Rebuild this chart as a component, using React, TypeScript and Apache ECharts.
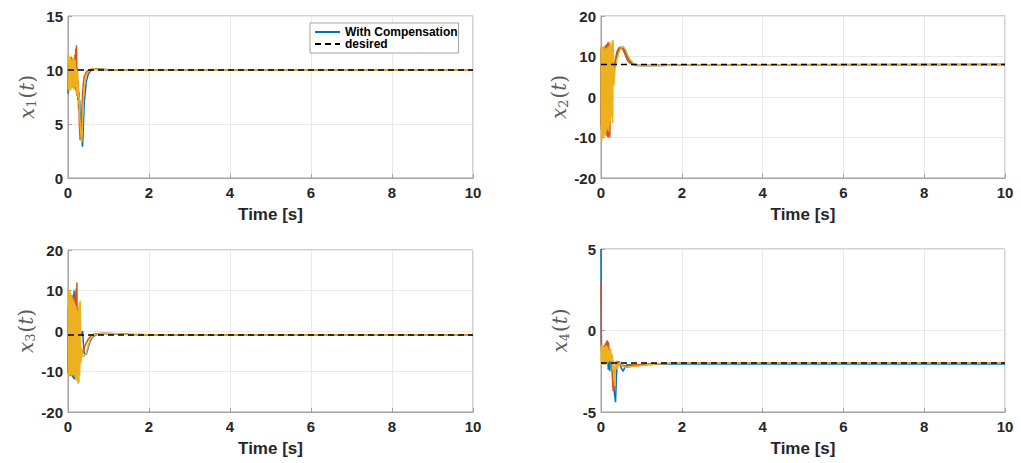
import React, { useEffect, useRef } from "react";
import * as echarts from "echarts";

// time samples (s)
const T = [
  0, 0.01, 0.02, 0.03, 0.04, 0.05, 0.06, 0.07, 0.08, 0.09,
  0.1, 0.11, 0.12, 0.13, 0.14, 0.15, 0.16, 0.17, 0.18, 0.19,
  0.2, 0.21, 0.22, 0.23, 0.24, 0.25, 0.26, 0.27, 0.28, 0.29,
  0.3, 0.32, 0.34, 0.36, 0.38, 0.4,
  0.45, 0.5, 0.55, 0.6, 0.65, 0.7,
  0.8, 0.9, 1.0, 1.2, 1.5, 2.0, 10,
];

const xTicks = [0, 2, 4, 6, 8, 10];

// x1
const x1Blue = [
  7.8, 10.3, 8.3, 10.6, 8.5, 10.4, 8.7, 10.7, 8.4, 10.5,
  8.9, 10.8, 9.1, 10.9, 8.8, 10.7, 9.0, 10.4, 8.6, 10.1,
  8.7, 9.6, 8.1, 9.2, 7.9, 8.6, 7.4, 8.0, 6.8, 7.2,
  5.8, 4.6, 3.6, 2.9, 4.8, 6.9,
  8.9, 9.6, 9.9, 10.05, 10.1, 10.12,
  10.1, 10.06, 10.03, 10.0, 10.0, 10.0, 10.0,
];
const x1Orange = [
  9.0, 10.6, 8.6, 10.9, 8.8, 11.0, 8.5, 10.6, 8.9, 11.2,
  8.4, 10.8, 8.7, 11.0, 8.3, 10.5, 8.6, 11.4, 8.2, 12.0,
  8.0, 12.3, 7.6, 10.2, 7.2, 9.0, 6.4, 7.5, 5.0, 4.2,
  3.5, 4.5, 6.2, 7.8, 8.8, 9.4,
  9.8, 9.95, 10.05, 10.1, 10.1, 10.08,
  10.05, 10.03, 10.0, 10.0, 10.0, 10.0, 10.0,
];
const x1Yellow = [
  11.5, 8.2, 11.2, 8.0, 11.0, 8.4, 11.3, 8.1, 10.8, 8.3,
  11.0, 8.6, 10.7, 8.5, 11.1, 8.2, 10.6, 8.8, 10.9, 8.4,
  10.2, 8.0, 10.0, 7.6, 9.8, 7.4, 8.6, 6.8, 7.5, 5.8,
  5.0, 4.0, 3.3, 5.2, 7.2, 8.4,
  9.5, 9.85, 10.0, 10.1, 10.12, 10.1,
  10.08, 10.04, 10.02, 10.0, 10.0, 10.0, 10.0,
];
const x1Desired = 10;

// x2
const x2Blue = [
  12.0, -8.0, 11.5, -7.5, 12.2, -8.2, 11.8, -7.0, 12.5, -7.8,
  12.0, -8.5, 12.8, -9.0, 13.0, -8.8, 12.6, -7.5, 13.2, -6.0,
  12.0, -4.0, 10.0, -1.0, 8.0, 2.0, 6.5, 4.0, 7.5, 5.5,
  6.0, 6.8, 7.6, 8.6, 9.6, 10.5,
  11.8, 12.3, 12.2, 11.2, 9.9, 8.9,
  8.1, 7.85, 7.8, 7.75, 7.8, 7.95, 8.0,
];
const x2Orange = [
  -7.0, 11.0, -8.5, 12.0, -7.8, 11.5, -9.0, 12.2, -8.0, 11.8,
  -8.8, 12.5, -9.5, 12.0, -8.5, 13.0, -9.8, 13.5, -10.0, 12.8,
  -8.0, 13.5, -10.0, 11.0, -4.0, 9.0, 2.0, 6.0, 4.0, 5.0,
  6.5, 7.5, 8.5, 9.5, 10.5, 11.3,
  12.2, 12.2, 11.6, 10.4, 9.2, 8.5,
  8.0, 7.8, 7.75, 7.75, 7.85, 7.95, 8.0,
];
const x2Yellow = [
  12.5, -11.0, 12.0, -10.5, 12.3, -9.5, 11.8, -10.0, 12.5, -9.0,
  12.0, -9.5, 11.5, -8.5, 12.2, -8.0, 11.8, -7.5, 12.5, -8.5,
  12.0, -7.0, 13.5, -6.0, 12.0, -5.0, 13.0, -3.0, 14.0, -6.5,
  14.0, 3.0, 6.5, 7.5, 8.5, 9.5,
  11.2, 12.2, 12.4, 11.8, 10.6, 9.5,
  8.3, 7.9, 7.8, 7.75, 7.8, 7.95, 8.0,
];
const x2Desired = 8;

// x3
const x3Blue = [
  -10.5, 6.0, -11.0, 7.0, -10.8, 6.5, -11.2, 7.5, -10.5, 8.0,
  -11.0, 8.5, -11.5, 9.0, -11.8, 10.0, -12.0, 9.5, -11.5, 7.0,
  -10.5, 5.0, -9.0, 3.0, -7.0, 1.0, -5.0, -1.0, -3.5, -2.0,
  -1.5, -1.0, -0.5, 0.0, -3.0, -5.5,
  -5.8, -4.0, -2.5, -1.6, -1.2, -0.9,
  -0.7, -0.6, -0.6, -0.65, -0.8, -0.95, -1.0,
];
const x3Orange = [
  5.5, -10.0, 6.5, -10.5, 7.0, -9.8, 6.0, -10.2, 7.2, -9.5,
  6.8, -10.0, 7.5, -9.8, 8.0, -9.0, 8.5, -8.0, 9.0, -6.0,
  10.5, -4.0, 12.0, -3.0, 4.0, -2.5, -1.0, -3.0, -2.0, -4.0,
  -5.0, -6.0, -6.2, -5.5, -5.0, -4.2,
  -3.0, -2.0, -1.4, -1.0, -0.8, -0.7,
  -0.6, -0.6, -0.65, -0.7, -0.85, -0.95, -1.0,
];
const x3Yellow = [
  10.5, -11.5, 10.0, -10.8, 10.2, -11.0, 9.5, -10.5, 9.0, -11.2,
  8.5, -10.8, 8.0, -11.0, 7.5, -10.5, 7.0, -11.5, 6.5, -12.0,
  6.0, -12.2, 5.0, -12.5, 4.5, -13.0, 6.0, -12.8, 7.0, -11.0,
  7.5, -8.0, -4.0, -6.0, -6.3, -6.2,
  -5.5, -3.5, -2.0, -1.4, -1.0, -0.8,
  -0.6, -0.55, -0.6, -0.7, -0.85, -0.95, -1.0,
];
const x3Desired = -1;

// x4
const x4Blue = [
  5.0, -1.0, -1.6, -1.2, -1.8, -1.3, -1.7, -1.2, -1.6, -1.4,
  -1.8, -1.3, -1.7, -1.4, -1.9, -1.5, -1.8, -1.6, -2.4, -2.3,
  -1.7, -1.5, -2.5, -1.6, -1.5, -1.4, -1.6, -1.9, -2.2, -2.6,
  -3.0, -3.6, -4.0, -4.4, -3.0, -2.0,
  -1.9, -2.3, -2.5, -2.2, -2.1, -2.1,
  -2.1, -2.1, -2.1, -2.08, -2.05, -2.05, -2.05,
];
const x4Orange = [
  3.0, -0.9, -1.3, -1.0, -1.4, -1.1, -1.3, -1.0, -1.2, -0.9,
  -1.1, -0.8, -1.0, -0.7, -0.9, -0.6, -0.8, -1.0, -0.7, -0.9,
  -1.3, -1.6, -1.5, -1.8, -1.6, -1.5, -1.7, -2.2, -2.8, -3.3,
  -3.7, -3.6, -2.6, -2.1, -1.9, -1.9,
  -2.0, -2.1, -2.15, -2.2, -2.2, -2.15,
  -2.1, -2.1, -2.08, -2.05, -2.02, -2.0, -2.0,
];
const x4Yellow = [
  -0.9, -2.0, -1.0, -2.1, -1.1, -2.0, -0.9, -2.1, -1.0, -2.0,
  -1.2, -2.1, -0.9, -2.0, -1.1, -1.9, -1.0, -2.0, -1.2, -1.8,
  -1.3, -1.9, -1.2, -1.8, -1.1, -1.9, -1.4, -2.0, -1.5, -2.4,
  -1.8, -3.0, -3.4, -2.0, -1.9, -2.4,
  -2.0, -2.1, -2.2, -2.25, -2.25, -2.25,
  -2.2, -2.2, -2.15, -2.1, -2.03, -2.0, -2.0,
];
const x4Desired = -2;

const panels = [
  { sub: "1", min: 0, max: 15, interval: 5, blue: x1Blue, orange: x1Orange, yellow: x1Yellow, desired: x1Desired },
  { sub: "2", min: -20, max: 20, interval: 10, blue: x2Blue, orange: x2Orange, yellow: x2Yellow, desired: x2Desired },
  { sub: "3", min: -20, max: 20, interval: 10, blue: x3Blue, orange: x3Orange, yellow: x3Yellow, desired: x3Desired },
  { sub: "4", min: -5, max: 5, interval: 5, blue: x4Blue, orange: x4Orange, yellow: x4Yellow, desired: x4Desired },
];

const grids = [
  { left: 68, top: 16, width: 405, height: 162 },
  { left: 601, top: 16, width: 404, height: 162 },
  { left: 68, top: 250, width: 405, height: 162 },
  { left: 601, top: 249, width: 404, height: 163 },
];

const SANS = "'Liberation Sans', Arial, sans-serif";
const SERIF = "'DejaVu Serif', 'Liberation Serif', serif";
const TXT = "#262626";
const FRAME = "#a3a3a3";
const GRIDC = "#e9e9e9";
const LABEL = "#5c5c5c";

function buildOption() {
  const xAxis: any[] = [];
  const yAxis: any[] = [];
  const series: any[] = [];
  panels.forEach((p, i) => {
    xAxis.push({
      gridIndex: i,
      type: "value",
      min: xTicks[0],
      max: xTicks[xTicks.length - 1],
      interval: 2,
      name: "Time [s]",
      nameLocation: "middle",
      nameGap: 28,
      nameTextStyle: { fontFamily: SANS, fontWeight: "bold", fontSize: 17, color: TXT },
      axisLabel: { fontFamily: SANS, fontWeight: "bold", fontSize: 15, color: TXT, margin: 7 },
      axisLine: { show: true, onZero: false, lineStyle: { color: FRAME, width: 1 } },
      axisTick: { show: true, inside: true, length: 4, lineStyle: { color: FRAME } },
      splitLine: { show: true, lineStyle: { color: GRIDC, width: 1 } },
    });
    yAxis.push({
      gridIndex: i,
      type: "value",
      min: p.min,
      max: p.max,
      interval: p.interval,
      name: `{v|x}{s|${p.sub}}{p|(}{v|t}{p|)}`,
      nameLocation: "middle",
      nameRotate: 90,
      nameGap: 30,
      nameTextStyle: {
        rich: {
          v: { fontFamily: SERIF, fontStyle: "italic", fontSize: 20, color: LABEL },
          p: { fontFamily: SERIF, fontSize: 20, color: LABEL },
          s: { fontFamily: SERIF, fontSize: 13, color: LABEL, padding: [9, 1, 0, 0] },
        },
      },
      axisLabel: { fontFamily: SANS, fontWeight: "bold", fontSize: 15, color: TXT, margin: 5 },
      axisLine: { show: true, onZero: false, lineStyle: { color: FRAME, width: 1 } },
      axisTick: { show: true, inside: true, length: 4, lineStyle: { color: FRAME } },
      splitLine: { show: true, lineStyle: { color: GRIDC, width: 1 } },
    });
    const mk = (name: string, vals: number[], color: string) => ({
      type: "line",
      name,
      xAxisIndex: i,
      yAxisIndex: i,
      data: T.map((t, k) => [t, vals[k]]),
      symbol: "none",
      lineStyle: { color, width: 1.5 },
      itemStyle: { color },
      z: 2,
    });
    series.push(mk("With Compensation", p.blue, "#0072BD"));
    series.push(mk("agent 2 " + p.sub, p.orange, "#D95319"));
    series.push(mk("agent 3 " + p.sub, p.yellow, "#EDB120"));
    series.push({
      type: "line",
      name: "desired",
      xAxisIndex: i,
      yAxisIndex: i,
      data: [
        [xTicks[0], p.desired],
        [xTicks[xTicks.length - 1], p.desired],
      ],
      symbol: "none",
      lineStyle: { color: "#000000", width: 1.5, type: [6, 4] },
      itemStyle: { color: "#000000" },
      z: 3,
    });
  });
  return {
    animation: false,
    backgroundColor: "#ffffff",
    grid: grids.map((g) => ({ ...g, show: true, borderColor: FRAME, borderWidth: 1, backgroundColor: "transparent" })),
    xAxis,
    yAxis,
    series,
    legend: {
      data: ["With Compensation", "desired"],
      orient: "vertical",
      left: 310,
      top: 23,
      padding: [3, 1, 3, 4],
      itemGap: 0,
      itemWidth: 25,
      itemHeight: 13,
      backgroundColor: "#ffffff",
      borderColor: FRAME,
      borderWidth: 1,
      selectedMode: false,
      itemStyle: { opacity: 0, color: "transparent", borderWidth: 0 },
      textStyle: { fontFamily: SANS, fontWeight: "bold", fontSize: 12, color: "#000000" },
    },
  };
}

export default function App() {
  const ref = useRef<HTMLDivElement>(null);
  useEffect(() => {
    document.body.style.margin = "0";
    const chart = echarts.init(ref.current as HTMLDivElement, null, { renderer: "svg" });
    chart.setOption(buildOption() as any);
    return () => chart.dispose();
  }, []);
  return <div ref={ref} style={{ width: 1021, height: 463 }} />;
}
